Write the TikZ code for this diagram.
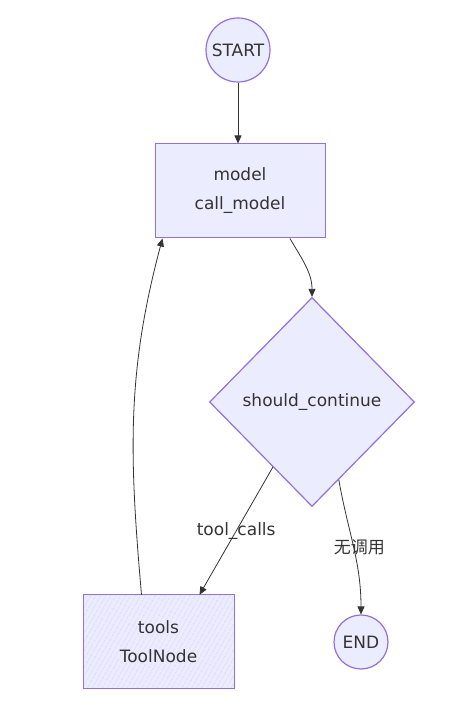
\documentclass[tikz,border=0pt]{standalone}
\usepackage{fontspec}
\setmainfont{DejaVu Sans}
\newfontfamily\cjk{Noto Sans CJK SC}
\usetikzlibrary{arrows.meta,shapes.geometric,patterns.meta}
\definecolor{nodefill}{HTML}{ECECFF}
\definecolor{nodeline}{HTML}{9370DB}
\definecolor{edgeline}{HTML}{333333}

\begin{document}
\begin{tikzpicture}[x=1pt,y=1pt,
	every node/.style={font=\fontsize{17}{29}\selectfont, text=edgeline},
	terminal/.style={circle, draw=nodeline, fill=nodefill, line width=1.2pt, inner sep=0pt},
	taskbox/.style={rectangle, draw=nodeline, fill=nodefill, line width=1pt, align=center, inner sep=0pt},
	decision/.style={diamond, draw=nodeline, fill=nodefill, line width=1.2pt, inner sep=0pt},
	flow/.style={draw=edgeline, line width=0.8pt, -{Triangle[length=8pt,width=7pt]}}
]
\useasboundingbox (0,0) rectangle (474,713);
% nodes
\node[terminal, minimum size=64pt] (start) at (238,663) {START};
\node[taskbox, minimum width=170pt, minimum height=94pt] (model) at (240,522) {model\\call\_model};
\node[decision, minimum width=205pt, minimum height=209pt] (check) at (312,311) {should\_continue};
\node[taskbox, minimum width=151pt, minimum height=94pt,
	preaction={fill=nodefill}, pattern={Lines[angle=60,distance=4pt,line width=0.5pt]}, pattern color=nodeline!45] (tools) at (158.5,71) {tools\\ToolNode};
\node[terminal, minimum size=54pt] (end) at (361,71) {END};
% edges
\path[every edge/.style={flow}]
(start.south) edge (start.south |- model.north)
([xshift=50pt]model.south) edge[out=-60,in=90] (check.north)
(check.-121) edge node {tool\_calls} ([xshift=41pt]tools.north)
(check.-71) edge[out=-80,in=90] node[xshift=6pt] {\cjk 无调用} (end.north)
([xshift=-17pt]tools.north) edge[out=95,in=-105] ([xshift=8pt]model.south west)
;
\end{tikzpicture}
\end{document}
